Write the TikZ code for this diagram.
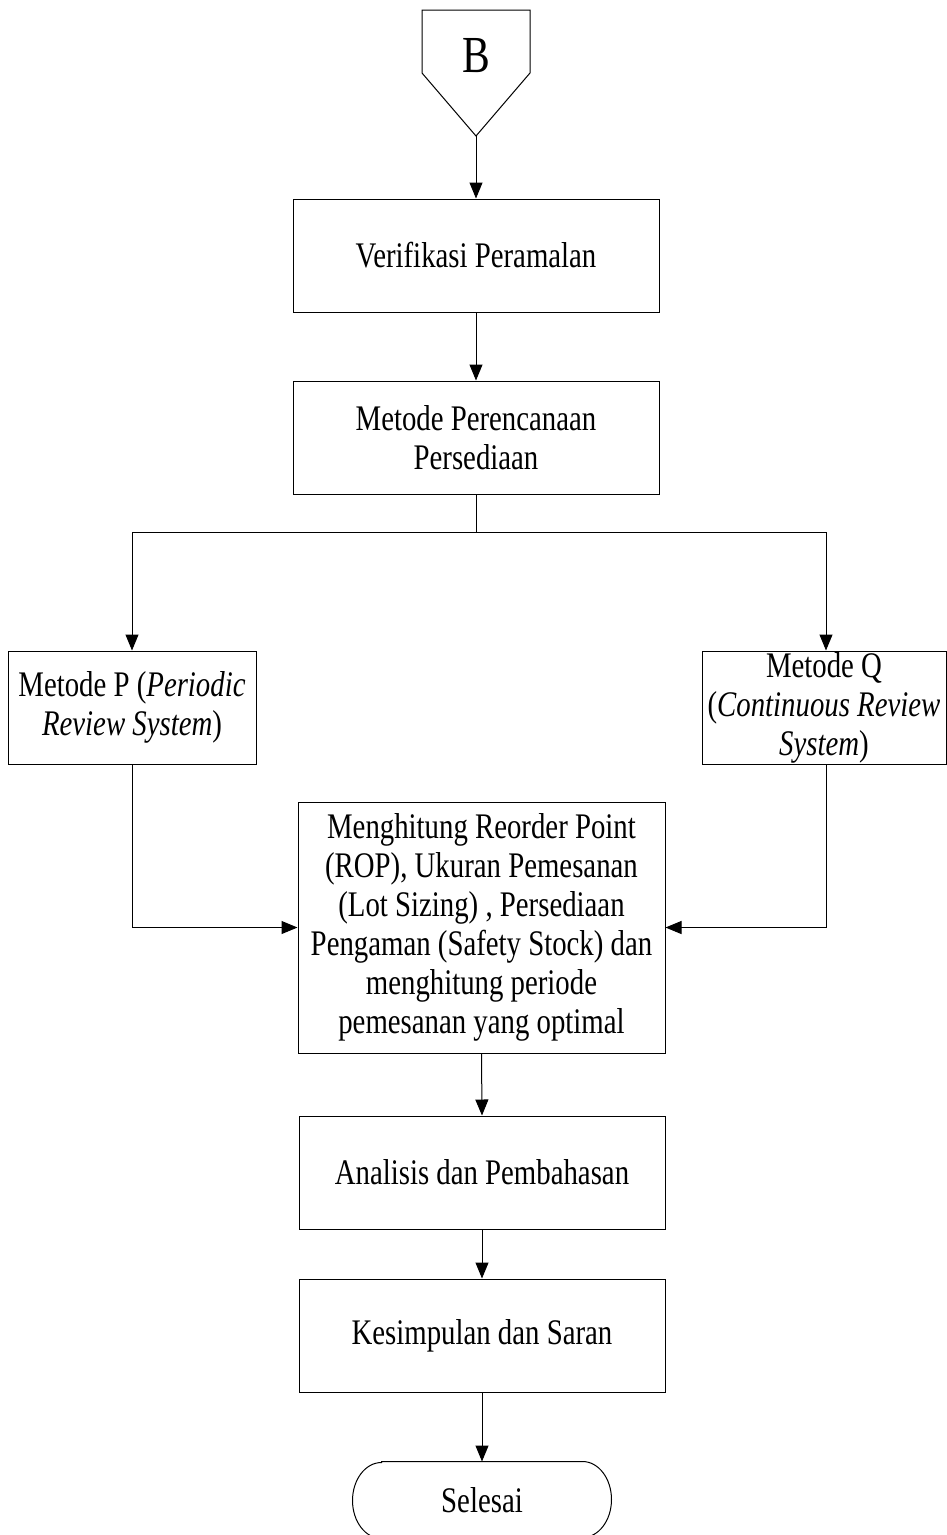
\documentclass[tikz,border=0pt]{standalone}
\usepackage{fontspec}
\setmainfont{Liberation Serif}[FakeStretch=0.8]
\usepackage{tikz}
\usetikzlibrary{arrows.meta}
\tikzset{
        fc_text/.style = {align=center, inner sep=1pt, text centered,
            font=\fontsize{36}{39}\selectfont},
        fc_box/.style = {fc_text, rectangle, draw=black, line width=1pt,
            fill=white, minimum width=366pt, minimum height=113pt},
        fc_side/.style = {fc_box, minimum width=246pt},
        fc_term/.style = {fc_text, rectangle, minimum width=200pt,
            minimum height=76pt, inner sep=0pt},
        fc_conn/.style = {align=center, inner sep=0pt,
            font=\fontsize{52}{60}\selectfont}
    }

\begin{document}
\begin{tikzpicture}[->,>={Triangle[length=16pt,width=13pt]}, x=1pt, y=1pt,
            line width=1pt]
            \useasboundingbox (0,0) rectangle (947,-1535);
            % off page connector
            \node [fc_conn] (conB) at (476,-56) {B};
            \coordinate (conBtip) at (476,-136);
            \draw [-] (422,-10) -- (530,-10) -- (530,-73) -- (conBtip)
                -- (422,-73) -- cycle;
            \node [fc_box] (verif) at (476,-255.5) {Verifikasi Peramalan};
            \node [fc_box] (perenc) at (476,-437.5)
                {Metode Perencanaan\\Persediaan};
            \node [fc_side, minimum width=248pt] (metP) at (132,-707.5)
                {Metode P (\textit{Periodic}\\\textit{Review System})};
            \node [fc_side, minimum width=244pt] (metQ) at (824,-707.5)
                {Metode Q\\(\textit{Continuous Review}\\\textit{System})};
            \node [fc_box, minimum width=367pt, minimum height=251pt] (hitung)
                at (481.5,-927.5)
                {Menghitung Reorder Point\\(ROP), Ukuran Pemesanan\\
                (Lot Sizing) , Persediaan\\Pengaman (Safety Stock) dan\\
                menghitung periode\\pemesanan yang optimal};
            \node [fc_box] (anal) at (482,-1172.5) {Analisis dan Pembahasan};
            \node [fc_box] (kesim) at (482,-1335.5) {Kesimpulan dan Saran};
            % end
            \node [fc_term] (selesai) at (482,-1500) {Selesai};
            \draw [-] (selesai.north west) -- (selesai.north east)
                arc [start angle=90, end angle=-90, x radius=29, y radius=38]
                -- (selesai.south west)
                arc [start angle=270, end angle=90, x radius=29, y radius=38]
                -- cycle;

            \draw (conBtip) -- (verif.north);
            \draw (verif.south) -- (perenc.north);
            \draw (perenc.south) -- ++(0,-38) -| (metP.north);
            \draw (perenc.south) -- ++(0,-38) -| ([xshift=2pt]metQ.north);
            \draw (metP.south) |- (hitung.west);
            \draw ([xshift=2pt]metQ.south) |- (hitung.east);
            \draw (hitung.south) -- (anal.north);
            \draw (anal.south) -- (kesim.north);
            \draw (kesim.south) -- (selesai.north);
        \end{tikzpicture}
\end{document}
